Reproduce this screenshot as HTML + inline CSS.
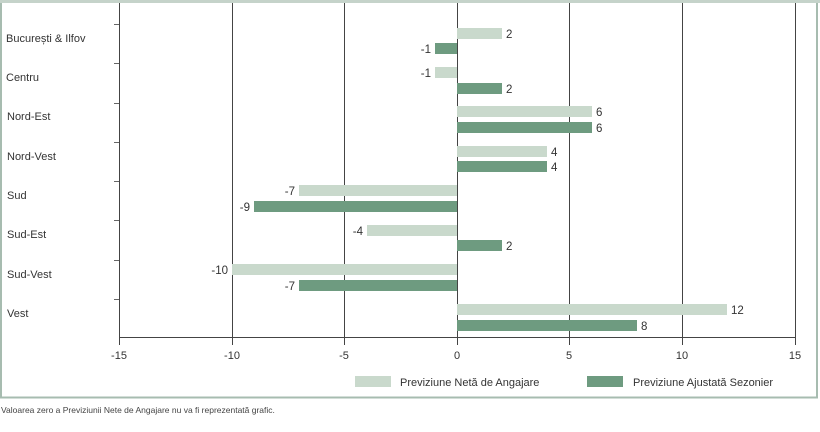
<!DOCTYPE html>
<html><head><meta charset="utf-8"><style>
body{margin:0;width:820px;height:427px;background:#fff;overflow:hidden;font-family:"Liberation Sans",sans-serif}
</style></head><body>
<svg width="820" height="427" xmlns="http://www.w3.org/2000/svg" font-family="Liberation Sans, sans-serif">
<rect x="1" y="1.5" width="816" height="396" fill="none" stroke="#a7bcb0" stroke-width="2"/>
<rect x="0" y="0" width="820" height="3" fill="#c5d3ca"/>
<g stroke="#444" stroke-width="1">
<line x1="119.5" y1="3" x2="119.5" y2="337"/>
<line x1="232.5" y1="3" x2="232.5" y2="345"/>
<line x1="344.5" y1="3" x2="344.5" y2="345"/>
<line x1="457.5" y1="3" x2="457.5" y2="345"/>
<line x1="569.5" y1="3" x2="569.5" y2="345"/>
<line x1="682.5" y1="3" x2="682.5" y2="345"/>
<line x1="795.5" y1="3" x2="795.5" y2="345"/>
<line x1="119" y1="337.5" x2="796" y2="337.5"/>
<line x1="119.5" y1="337" x2="119.5" y2="345"/>
<g stroke="#666">
<line x1="114" y1="24.5" x2="119" y2="24.5"/><line x1="114" y1="63.5" x2="119" y2="63.5"/>
<line x1="114" y1="103.5" x2="119" y2="103.5"/><line x1="114" y1="142.5" x2="119" y2="142.5"/>
<line x1="114" y1="181.5" x2="119" y2="181.5"/><line x1="114" y1="220.5" x2="119" y2="220.5"/>
<line x1="114" y1="260.5" x2="119" y2="260.5"/><line x1="114" y1="299.5" x2="119" y2="299.5"/>
</g></g>
<g font-size="11" fill="#333">
<text x="6" y="42">București &amp; Ilfov</text>
<text x="6" y="81">Centru</text>
<text x="7" y="120">Nord-Est</text>
<text x="7" y="160">Nord-Vest</text>
<text x="7" y="199">Sud</text>
<text x="7" y="238">Sud-Est</text>
<text x="7" y="278">Sud-Vest</text>
<text x="7" y="317">Vest</text>
</g>
<g>
<rect x="457" y="28" width="45" height="11" fill="#c9d9cc"/><rect x="435" y="43" width="22" height="11" fill="#6e9b80"/>
<rect x="435" y="67" width="22" height="11" fill="#c9d9cc"/><rect x="457" y="83" width="45" height="11" fill="#6e9b80"/>
<rect x="457" y="106" width="135" height="11" fill="#c9d9cc"/><rect x="457" y="122" width="135" height="11" fill="#6e9b80"/>
<rect x="457" y="146" width="90" height="11" fill="#c9d9cc"/><rect x="457" y="161" width="90" height="11" fill="#6e9b80"/>
<rect x="299" y="185" width="158" height="11" fill="#c9d9cc"/><rect x="254" y="201" width="203" height="11" fill="#6e9b80"/>
<rect x="367" y="225" width="90" height="11" fill="#c9d9cc"/><rect x="457" y="240" width="45" height="11" fill="#6e9b80"/>
<rect x="232" y="264" width="225" height="11" fill="#c9d9cc"/><rect x="299" y="280" width="158" height="11" fill="#6e9b80"/>
<rect x="457" y="304" width="270" height="11" fill="#c9d9cc"/><rect x="457" y="320" width="180" height="11" fill="#6e9b80"/>
</g>
<g font-size="11.5" fill="#333">
<text x="506" y="38">2</text><text x="431" y="53" text-anchor="end">-1</text>
<text x="431" y="77" text-anchor="end">-1</text><text x="506" y="93">2</text>
<text x="596" y="116">6</text><text x="596" y="132">6</text>
<text x="551" y="156">4</text><text x="551" y="171">4</text>
<text x="295" y="195" text-anchor="end">-7</text><text x="250" y="211" text-anchor="end">-9</text>
<text x="363" y="235" text-anchor="end">-4</text><text x="506" y="250">2</text>
<text x="228" y="274" text-anchor="end">-10</text><text x="295" y="290" text-anchor="end">-7</text>
<text x="731" y="314">12</text><text x="641" y="330">8</text>
</g>
<g font-size="11" fill="#333" text-anchor="middle">
<text x="119" y="359">-15</text><text x="232" y="359">-10</text><text x="344" y="359">-5</text>
<text x="457" y="359">0</text><text x="569" y="359">5</text><text x="682" y="359">10</text><text x="795" y="359">15</text>
</g>
<rect x="355" y="376" width="36" height="11" fill="#c9d9cc"/>
<text x="400" y="386" font-size="11" fill="#333">Previziune Netă de Angajare</text>
<rect x="587" y="376" width="36" height="11" fill="#6e9b80"/>
<text x="633" y="386" font-size="11" fill="#333">Previziune Ajustată Sezonier</text>
<text x="1" y="413" font-size="8.5" fill="#444">Valoarea zero a Previziunii Nete de Angajare nu va fi reprezentată grafic.</text>
</svg>
</body></html>
